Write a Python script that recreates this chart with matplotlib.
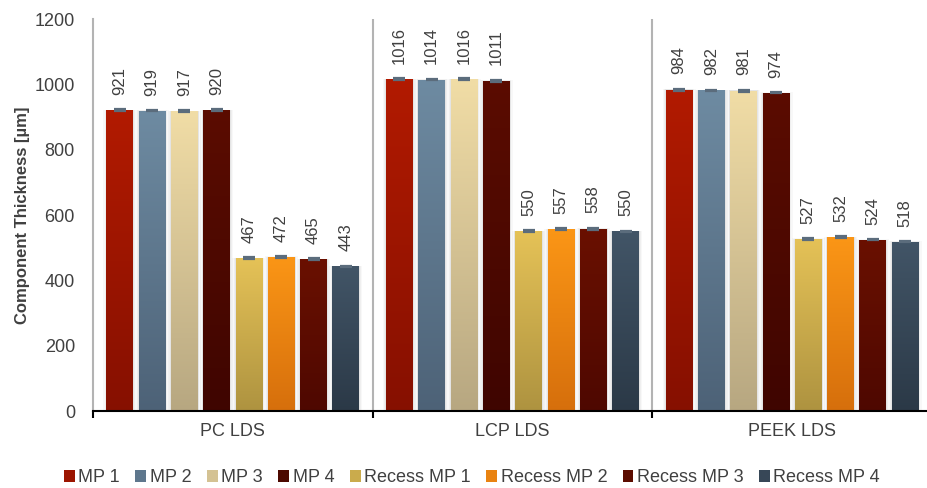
import numpy as np
import matplotlib
matplotlib.use("Agg")
import matplotlib.pyplot as plt
from matplotlib.colors import LinearSegmentedColormap, to_rgb
from matplotlib.patches import Rectangle, Patch

plt.rcParams['font.family'] = ['Liberation Sans', 'DejaVu Sans']

groups = ["PC LDS", "LCP LDS", "PEEK LDS"]
series = ["MP 1", "MP 2", "MP 3", "MP 4",
          "Recess MP 1", "Recess MP 2", "Recess MP 3", "Recess MP 4"]

mp1 = [921, 1016, 984]
mp2 = [919, 1014, 982]
mp3 = [917, 1016, 981]
mp4 = [920, 1011, 974]
recess_mp1 = [467, 550, 527]
recess_mp2 = [472, 557, 532]
recess_mp3 = [465, 558, 524]
recess_mp4 = [443, 550, 518]
values = [mp1, mp2, mp3, mp4, recess_mp1, recess_mp2, recess_mp3, recess_mp4]

# small standard deviations shown as error caps
errors = [[3, 3, 3], [2, 2, 2], [3, 2, 3], [3, 3, 2],
          [3, 3, 2], [3, 2, 3], [2, 3, 2], [2, 2, 2]]

# (top colour, bottom colour) of each series' vertical gradient
gradients = [("#b21a00", "#861000"),
             ("#6e8ba2", "#4d6277"),
             ("#f1dda6", "#b7a781"),
             ("#5b0c00", "#3f0500"),
             ("#e5c257", "#ae9340"),
             ("#fb9616", "#d66f0c"),
             ("#6a1000", "#4e0800"),
             ("#425567", "#2b3947")]

fig = plt.figure(figsize=(9.27, 4.88), dpi=100)
ax = fig.add_axes([93 / 927, 1 - 411 / 488, (932 - 93) / 927, (411 - 19) / 488])

x = np.arange(len(groups))
step = 0.1155
width = 0.096
ax.set_xlim(-0.5, 2.5)
ax.set_ylim(0, 1200)

grad = np.linspace(0, 1, 256).reshape(-1, 1)
for i, (vals, errs, (top, bottom)) in enumerate(zip(values, errors, gradients)):
    cmap = LinearSegmentedColormap.from_list(series[i], [bottom, top])
    pos = x + (i - 3.5) * step
    for xc, v, e in zip(pos, vals, errs):
        # soft shadow around the bar
        for k, a in [(0.011, 0.05), (0.006, 0.07), (0.003, 0.09)]:
            ax.add_patch(Rectangle((xc - width / 2 - k, 0), width + 2 * k, v + k * 150,
                                   facecolor="#808080", edgecolor="none", alpha=a, zorder=1))
        rect = Rectangle((xc - width / 2, 0), width, v, facecolor="none",
                         edgecolor="none", zorder=2)
        ax.add_patch(rect)
        im = ax.imshow(grad, cmap=cmap, origin="lower", aspect="auto",
                       extent=(xc - width / 2, xc + width / 2, 0, v), zorder=2)
        im.set_clip_path(rect)
        ax.errorbar(xc, v, yerr=e, color="#5b6c7c", capsize=4.5, capthick=1.6,
                    elinewidth=1.6, zorder=3)
        ax.annotate(f"{v}", (xc, v), xytext=(0, 11), textcoords="offset points",
                    rotation=90, ha="center", va="bottom", fontsize=12,
                    color="#404040")

ax.set_xlim(-0.5, 2.5)
ax.set_ylim(0, 1200)

# group separators
for b in [0.5, 1.5]:
    ax.axvline(b, color="#b3b3b3", lw=1.5, zorder=0)

for s in ["top", "right"]:
    ax.spines[s].set_visible(False)
ax.spines["left"].set_color("#b3b3b3")
ax.spines["left"].set_linewidth(1.5)
ax.spines["bottom"].set_color("black")
ax.spines["bottom"].set_linewidth(1.5)

ax.set_yticks(range(0, 1201, 200))
ax.tick_params(axis="y", length=0, labelsize=13, labelcolor="#404040", pad=13)
ax.set_xticks(x)
ax.set_xticklabels(groups)
ax.tick_params(axis="x", length=0, labelsize=13, labelcolor="#404040", pad=9)
ax.set_xticks([-0.5, 0.5, 1.5, 2.5], minor=True)
ax.tick_params(axis="x", which="minor", length=5, width=1.5, color="black")

ax.set_ylabel("Component Thickness [µm]", fontsize=12, fontweight="bold",
              color="#404040", labelpad=3)


def mid(c1, c2):
    a, b = np.array(to_rgb(c1)), np.array(to_rgb(c2))
    return tuple((a + b) / 2)


handles = [Patch(facecolor=mid(t, b), edgecolor="none") for t, b in gradients]
fig.legend(handles, series, loc="center", bbox_to_anchor=(472 / 927, 1 - 478 / 488),
           ncol=8, frameon=False, fontsize=13, handlelength=0.6, handleheight=0.6,
           handletextpad=0.2, columnspacing=0.85, labelcolor="#404040")

fig.savefig("out.png", dpi=100)
